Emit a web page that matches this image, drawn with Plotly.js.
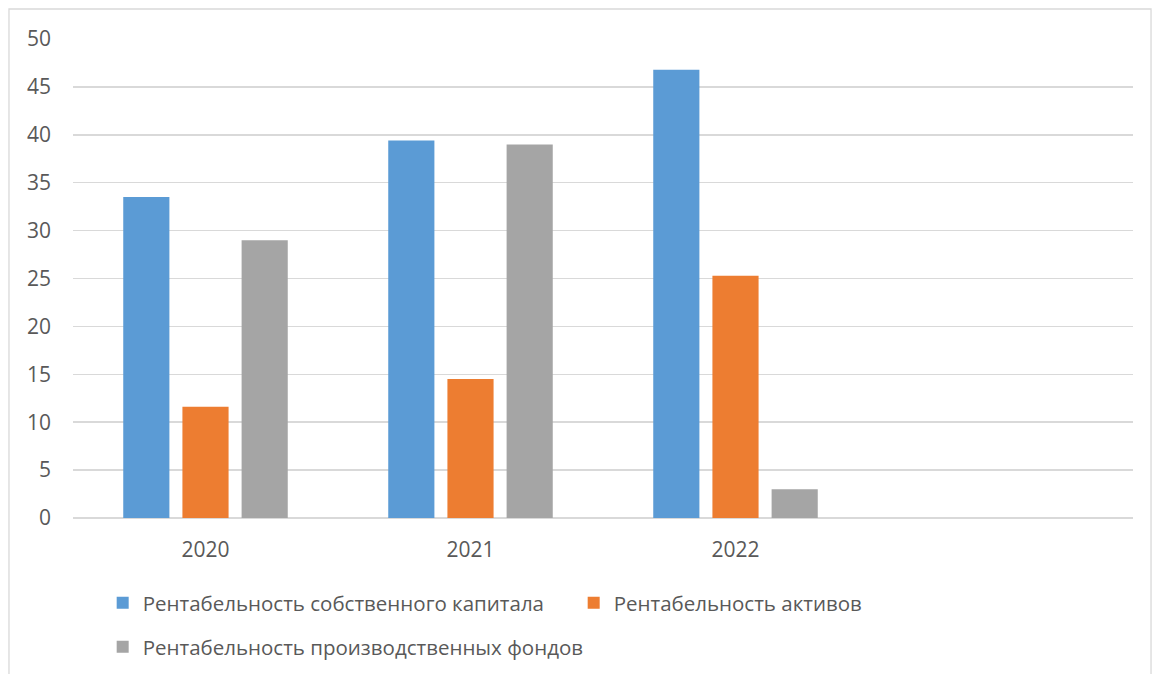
<!DOCTYPE html>
<html><head><meta charset="utf-8">
<script src="https://cdn.plot.ly/plotly-3.0.1.min.js"></script>
<style>html,body{margin:0;padding:0;background:#fff}#chart{width:1152px;height:674px}</style>
</head><body><div id="chart"></div>
<script>
const years = ['2020', '2021', '2022'];
const seriesNames = ['Рентабельность собственного капитала', 'Рентабельность активов', 'Рентабельность производственных фондов'];
const equityReturn = [33.5, 39.4, 46.8];
const assetsReturn = [11.6, 14.5, 25.3];
const fundsReturn = [29.0, 39.0, 3.0];
const yTicks = [0, 5, 10, 15, 20, 25, 30, 35, 40, 45, 50];

const tickFont = {family: 'Open Sans, sans-serif', size: 21, color: '#595959'};
const legendFont = {family: 'Open Sans, sans-serif', size: 20.5, color: '#595959'};
const traces = [
  {type: 'bar', name: seriesNames[0], x: years, y: equityReturn, marker: {color: '#5B9BD5'}, legend: 'legend'},
  {type: 'bar', name: seriesNames[1], x: years, y: assetsReturn, marker: {color: '#ED7D31'}, legend: 'legend'},
  {type: 'bar', name: seriesNames[2], x: years, y: fundsReturn, marker: {color: '#A5A5A5'}, legend: 'legend2'}
];
const layout = {
  width: 1152, height: 674,
  margin: {l: 73, r: 19, t: 39, b: 156, autoexpand: false},
  paper_bgcolor: '#fff', plot_bgcolor: '#fff',
  font: tickFont,
  barmode: 'group', bargap: 0.33, bargroupgap: 0.22,
  xaxis: {type: 'category', categoryorder: 'array', categoryarray: years, range: [-0.5, 3.5], automargin: false,
    showgrid: false, zeroline: false, showline: false, ticks: '', tickfont: tickFont, ticklabelstandoff: 17},
  yaxis: {range: [0, 50], tickvals: yTicks, showgrid: true, gridcolor: '#d9d9d9', gridwidth: 1.5, automargin: false,
    zeroline: true, zerolinecolor: '#d9d9d9', zerolinewidth: 1.5, showline: false, ticks: '', tickfont: tickFont, ticklabelstandoff: 21},
  showlegend: true,
  legend: {orientation: 'h', x: 0.028, xanchor: 'left', y: -0.1775, yanchor: 'middle', font: legendFont, entrywidth: 426, entrywidthmode: 'pixels', traceorder: 'normal'},
  legend2: {orientation: 'h', x: 0.028, xanchor: 'left', y: -0.2693, yanchor: 'middle', font: legendFont},
  shapes: [{type: 'rect', xref: 'paper', yref: 'paper', x0: -0.0604, x1: 1.017, y0: -0.36, y1: 1.0626,
    line: {color: '#d9d9d9', width: 1.3}, fillcolor: 'rgba(0,0,0,0)'}]
};
Plotly.newPlot('chart', traces, layout, {displayModeBar: false, staticPlot: true});
</script></body></html>
